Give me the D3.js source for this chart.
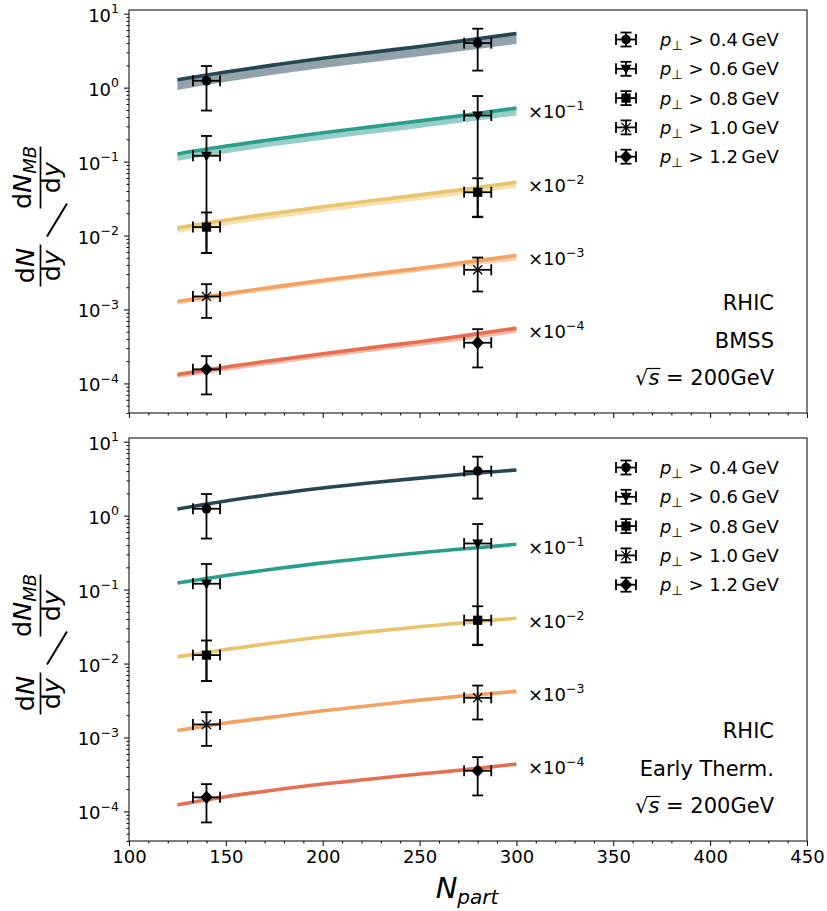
<!DOCTYPE html>
<html><head><meta charset="utf-8">
<script src="https://cdn.jsdelivr.net/npm/d3@7"></script>
<style>body{margin:0;background:#fff} svg{font-family:"DejaVu Sans",sans-serif}</style>
</head><body><svg id="c" width="827" height="911"></svg>
<script>
// ---------------- data ----------------
const Npart = [125,150,175,200,225,250,275,300];
const ptCuts = ["0.4","0.6","0.8","1.0","1.2"];
const scaleExp = ["0","−1","−2","−3","−4"];
const colors = ["#264653","#2a9d8f","#e9c46a","#f4a261","#e76f51"];
const markerTypes = ["circle","triangleDown","square","x","diamond"];

// top panel (BMSS): curve (upper edge) and lower band edge
const bmss04   = [1.28,1.63,2.03,2.5,3.0,3.6,4.4,5.4];
const bmss04Lo = [0.93,1.2,1.5,1.85,2.2,2.65,3.2,3.9];
const bmss06   = [0.127,0.162,0.2,0.245,0.295,0.355,0.43,0.53];
const bmss06Lo = [0.103,0.13,0.162,0.198,0.238,0.285,0.345,0.42];
const bmss08   = [0.0127,0.0162,0.02,0.0245,0.0295,0.0355,0.043,0.0525];
const bmss08Lo = [0.0109,0.0138,0.017,0.0208,0.025,0.03,0.0365,0.044];
const bmss10   = [0.00128,0.00163,0.00202,0.00248,0.003,0.0036,0.0044,0.00537];
const bmss10Lo = [0.00117,0.00148,0.00183,0.00224,0.0027,0.00325,0.0039,0.00459];
const bmss12   = [1.32e-4,1.67e-4,2.06e-4,2.52e-4,3.05e-4,3.67e-4,4.5e-4,5.6e-4];
const bmss12Lo = [1.18e-4,1.48e-4,1.82e-4,2.22e-4,2.68e-4,3.2e-4,3.9e-4,4.84e-4];

// bottom panel (Early thermalization)
const early04 = [1.23,1.58,1.96,2.37,2.78,3.22,3.68,4.15];
const early06 = [0.123,0.155,0.19,0.23,0.27,0.315,0.36,0.41];
const early08 = [0.0123,0.0155,0.019,0.023,0.027,0.0315,0.036,0.041];
const early10 = [0.00124,0.00157,0.0019,0.0023,0.0027,0.0032,0.0037,0.0042];
const early12 = [1.23e-4,1.58e-4,1.95e-4,2.35e-4,2.75e-4,3.2e-4,3.7e-4,4.37e-4];

// measured data points
const dataN = [140,280];
const dataNErr = [7,7];
const d04 = [1.24,4.0],     d04Up = [1.96,6.27],     d04Lo = [0.49,1.70];
const d06 = [0.12,0.42],    d06Up = [0.222,0.77],    d06Lo = [0.0058,0.018];
const d08 = [0.013,0.0385], d08Up = [0.0205,0.0595], d08Lo = [0.0058,0.0177];
const d10 = [0.0015,0.00344], d10Up = [0.0022,0.00504], d10Lo = [0.00077,0.00175];
const d12 = [1.55e-4,3.55e-4], d12Up = [2.34e-4,5.42e-4], d12Lo = [0.71e-4,1.645e-4];

const xTicks = [100,150,200,250,300,350,400,450];
const yTicks = [1e-4,1e-3,1e-2,1e-1,1,10];
const yTickExp = ["−4","−3","−2","−1","0","1"];

// ---------------- layout ----------------
const svg = d3.select("#c");
const L = 129, R = 807;
const x = d3.scaleLinear().domain([100,450]).range([L,R]);
const yDomain = [Math.pow(10,-4.4), Math.pow(10,1.05)];

const topCurves = [[bmss04,bmss04Lo],[bmss06,bmss06Lo],[bmss08,bmss08Lo],[bmss10,bmss10Lo],[bmss12,bmss12Lo]];
const botCurves = [[early04,null],[early06,null],[early08,null],[early10,null],[early12,null]];
const pts = [[d04,d04Up,d04Lo],[d06,d06Up,d06Lo],[d08,d08Up,d08Lo],[d10,d10Up,d10Lo],[d12,d12Up,d12Lo]];

const panels = [
  {top:10, bottom:413, curves:topCurves, texts:["RHIC","BMSS"], xlabels:false},
  {top:438, bottom:841, curves:botCurves, texts:["RHIC","Early Therm."], xlabels:true}
];

function drawMarker(g, type, cx, cy){
  if(type==="circle") g.append("circle").attr("cx",cx).attr("cy",cy).attr("r",4.8).attr("fill","#000");
  else if(type==="triangleDown") g.append("path").attr("d",`M${cx-5.5},${cy-4}L${cx+5.5},${cy-4}L${cx},${cy+5.5}Z`).attr("fill","#000");
  else if(type==="square") g.append("rect").attr("x",cx-4.6).attr("y",cy-4.6).attr("width",9.2).attr("height",9.2).attr("fill","#000");
  else if(type==="diamond") g.append("path").attr("d",`M${cx},${cy-6.6}L${cx+6.3},${cy}L${cx},${cy+6.6}L${cx-6.3},${cy}Z`).attr("fill","#000");
  else if(type==="x") g.append("path").attr("d",`M${cx-4.5},${cy-4.5}L${cx+4.5},${cy+4.5}M${cx-4.5},${cy+4.5}L${cx+4.5},${cy-4.5}`).attr("stroke","#000").attr("stroke-width",1.3);
}

function errorBar(g, x1, x2, y1, y2, cx, cy){
  const s = {stroke:"#000","stroke-width":1.8};
  const ln = (a,b,c,d)=>{const l=g.append("line").attr("x1",a).attr("y1",b).attr("x2",c).attr("y2",d); for(const k in s) l.attr(k,s[k]);};
  ln(cx,y1,cx,y2); ln(cx-5.5,y1,cx+5.5,y1); ln(cx-5.5,y2,cx+5.5,y2);
  ln(x1,cy,x2,cy); ln(x1,cy-5.5,x1,cy+5.5); ln(x2,cy-5.5,x2,cy+5.5);
}

panels.forEach((p,pi)=>{
  const y = d3.scaleLog().domain(yDomain).range([p.bottom,p.top]);
  const g = svg.append("g");
  const cid = "clip"+pi;
  svg.append("clipPath").attr("id",cid).append("rect").attr("x",L).attr("y",p.top).attr("width",R-L).attr("height",p.bottom-p.top);
  const plot = g.append("g").attr("clip-path",`url(#${cid})`);

  p.curves.forEach((c,i)=>{
    const rows = Npart.map((n,j)=>({n, v:c[0][j], lo: c[1]?c[1][j]:null}));
    if(c[1]){
      plot.append("path").datum(rows)
        .attr("d", d3.area().x(d=>x(d.n)).y0(d=>y(d.lo)).y1(d=>y(d.v)).curve(d3.curveMonotoneX))
        .attr("fill",colors[i]).attr("fill-opacity",0.5);
    }
    plot.append("path").datum(rows)
      .attr("d", d3.line().x(d=>x(d.n)).y(d=>y(d.v)).curve(d3.curveMonotoneX))
      .attr("fill","none").attr("stroke",colors[i]).attr("stroke-width",3.6);
    if(i>0){
      const last = rows[rows.length-1];
      const t = g.append("text").attr("x",528).attr("y",y(last.v)+9.5).attr("font-size",18);
      t.append("tspan").text("×10");
      t.append("tspan").attr("font-size",12.5).attr("dy",-8).text(scaleExp[i]);
    }
  });

  pts.forEach((s,i)=>{
    dataN.forEach((n,j)=>{
      const cx = x(n), cy = y(s[0][j]);
      errorBar(plot, x(n-dataNErr[j]), x(n+dataNErr[j]), y(s[1][j]), y(s[2][j]), cx, cy);
      drawMarker(plot, markerTypes[i], cx, cy);
    });
  });

  g.append("rect").attr("x",L).attr("y",p.top).attr("width",R-L).attr("height",p.bottom-p.top)
    .attr("fill","none").attr("stroke","#000").attr("stroke-width",1);

  const xa = g.append("g").attr("transform",`translate(0,${p.bottom})`)
    .call(d3.axisBottom(x).tickValues(xTicks).tickSize(5).tickPadding(4).tickFormat(p.xlabels?d3.format("d"):()=>""));
  xa.select(".domain").remove();
  xa.selectAll("text").attr("font-size",18).attr("font-family","DejaVu Sans").attr("fill","#000");
  const xm = g.append("g").attr("transform",`translate(0,${p.bottom})`)
    .call(d3.axisBottom(x).tickValues(d3.range(100,451,10).filter(v=>v%50!==0)).tickSize(2.5).tickFormat(()=>""));
  xm.select(".domain").remove();

  const ya = g.append("g").attr("transform",`translate(${L},0)`)
    .call(d3.axisLeft(y).tickValues(yTicks).tickSize(5).tickFormat(()=>""));
  ya.select(".domain").remove();
  const minors = [];
  for(let e=-5;e<=1;e++) for(let m=2;m<=9;m++){const v=m*Math.pow(10,e); if(v>=yDomain[0]&&v<=yDomain[1]) minors.push(v);}
  const ym = g.append("g").attr("transform",`translate(${L},0)`)
    .call(d3.axisLeft(y).tickValues(minors).tickSize(2.5).tickFormat(()=>""));
  ym.select(".domain").remove();
  yTicks.forEach((v,k)=>{
    const t = g.append("text").attr("x",119).attr("y",y(v)+8).attr("text-anchor","end").attr("font-size",18);
    t.append("tspan").text("10");
    t.append("tspan").attr("font-size",12.5).attr("dy",-8.5).text(yTickExp[k]);
  });

  ptCuts.forEach((c,i)=>{
    const cy = p.top + 29.5 + i*29.3, cx = 626;
    errorBar(g, cx-10, cx+10, cy-7, cy+7, cx, cy);
    drawMarker(g, markerTypes[i], cx, cy);
    const t = g.append("text").attr("x",660).attr("y",cy+6.5).attr("font-size",18);
    t.append("tspan").attr("font-style","italic").text("p");
    t.append("tspan").attr("font-size",13).attr("dy",4).text("⊥");
    t.append("tspan").attr("dy",-4).text(" > "+c+"\u2009GeV");
  });

  const tx = 774;
  g.append("text").attr("x",tx).attr("y",p.top+300).attr("text-anchor","end").attr("font-size",21).text(p.texts[0]);
  g.append("text").attr("x",tx).attr("y",p.top+338).attr("text-anchor","end").attr("font-size",21).text(p.texts[1]);
  const st = g.append("text").attr("x",tx).attr("y",p.top+375).attr("text-anchor","end").attr("font-size",21);
  st.append("tspan").text("√");
  st.append("tspan").attr("font-style","italic").text("s");
  st.append("tspan").text(" = 200GeV");
  const a = st.node().getStartPositionOfChar(1).x, b = st.node().getEndPositionOfChar(1).x;
  g.append("line").attr("x1",a-1).attr("x2",b+1).attr("y1",p.top+375-16.5).attr("y2",p.top+375-16.5).attr("stroke","#000").attr("stroke-width",1.2);

  // y label (rotated; local x points up the page, local y points right)
  const cy = (p.top+p.bottom)/2;
  const yl = g.append("g").attr("transform",`translate(0,${cy}) rotate(-90)`).attr("font-size",25.5);
  const f1 = yl.append("text").attr("x",-54).attr("y",34).attr("text-anchor","middle");
  f1.append("tspan").text("d"); f1.append("tspan").attr("font-style","italic").text("N");
  yl.append("line").attr("x1",-75).attr("x2",-33).attr("y1",40.5).attr("y2",40.5).attr("stroke","#000").attr("stroke-width",1.7);
  const f1d = yl.append("text").attr("x",-54).attr("y",60).attr("text-anchor","middle");
  f1d.append("tspan").text("d"); f1d.append("tspan").attr("font-style","italic").text("y");
  // big separating slash
  yl.append("line").attr("x1",-25).attr("y1",47).attr("x2",8).attr("y2",67).attr("stroke","#000").attr("stroke-width",2);
  const f2 = yl.append("text").attr("x",34).attr("y",31).attr("text-anchor","middle");
  f2.append("tspan").text("d"); f2.append("tspan").attr("font-style","italic").text("N");
  f2.append("tspan").attr("font-style","italic").attr("font-size",18).attr("dy",5).text("MB");
  yl.append("line").attr("x1",3).attr("x2",65).attr("y1",40.5).attr("y2",40.5).attr("stroke","#000").attr("stroke-width",1.7);
  const f2d = yl.append("text").attr("x",34).attr("y",60).attr("text-anchor","middle");
  f2d.append("tspan").text("d"); f2d.append("tspan").attr("font-style","italic").text("y");
});

const xl = svg.append("text").attr("x",467).attr("y",898).attr("text-anchor","middle").attr("font-size",29).attr("font-style","italic");
xl.append("tspan").text("N");
xl.append("tspan").attr("font-size",20).attr("dy",6).text("part");
</script></body></html>
